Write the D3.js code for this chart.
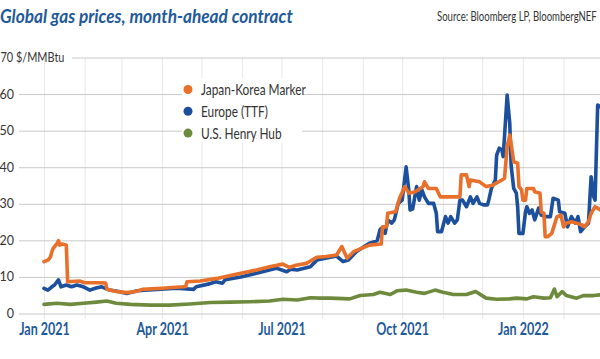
<!DOCTYPE html>
<html><head><meta charset="utf-8">
<script src="https://cdn.jsdelivr.net/npm/d3@7"></script>
<style>body{margin:0;background:#fff}svg{display:block}</style>
</head><body><svg id="c" width="600" height="359"></svg>
<script>
// ---------- data ----------
const seriesNames = ["Japan-Korea Marker", "Europe (TTF)", "U.S. Henry Hub"];
const seriesColors = ["#e8702a", "#1c4f9c", "#6e8b3d"];

const jkm = [
["2021-01-01",14.2],["2021-01-04",14.6],["2021-01-06",15.5],["2021-01-07",16.9],["2021-01-08",17.8],
["2021-01-11",19.2],["2021-01-12",19.9],["2021-01-13",18.7],["2021-01-15",19.0],["2021-01-18",18.7],
["2021-01-19",8.7],["2021-01-28",8.9],["2021-02-01",8.4],["2021-02-13",8.4],["2021-02-17",8.3],
["2021-02-18",6.6],["2021-02-25",6.0],["2021-03-05",5.7],["2021-03-12",6.0],["2021-03-17",6.6],
["2021-04-01",6.9],["2021-04-17",7.3],["2021-04-19",7.4],["2021-04-20",8.7],["2021-04-30",8.9],
["2021-05-13",9.6],["2021-05-23",10.4],["2021-05-31",11.0],["2021-06-12",11.9],["2021-06-22",12.8],
["2021-07-02",13.5],["2021-07-07",12.6],["2021-07-12",13.2],["2021-07-20",13.7],["2021-07-28",15.4],
["2021-08-04",15.6],["2021-08-12",16.0],["2021-08-16",18.3],["2021-08-20",15.1],["2021-08-25",16.9],
["2021-09-06",18.7],["2021-09-15",19.0],["2021-09-16",23.7],["2021-09-19",23.7],["2021-09-20",27.4],
["2021-09-26",27.8],["2021-09-29",31.5],["2021-10-03",34.7],["2021-10-06",32.9],["2021-10-11",33.3],
["2021-10-17",34.7],["2021-10-18",36.0],["2021-10-21",34.2],["2021-10-27",34.2],["2021-10-30",31.9],
["2021-11-14",31.9],["2021-11-15",37.9],["2021-11-19",37.9],["2021-11-21",34.7],["2021-11-22",36.5],
["2021-11-29",36.0],["2021-12-04",34.7],["2021-12-09",35.1],["2021-12-16",36.5],["2021-12-18",37.0],
["2021-12-20",45.6],["2021-12-22",48.8],["2021-12-23",46.5],["2021-12-25",41.5],["2021-12-28",41.1],
["2021-12-29",34.7],["2021-12-31",33.8],["2022-01-01",31.0],["2022-01-03",31.0],["2022-01-04",34.2],
["2022-01-09",34.2],["2022-01-10",33.3],["2022-01-14",32.9],["2022-01-15",27.8],["2022-01-17",27.4],
["2022-01-18",21.0],["2022-01-20",21.0],["2022-01-23",21.9],["2022-01-27",26.5],["2022-01-30",26.9],
["2022-02-01",23.7],["2022-02-03",24.7],["2022-02-07",25.1],["2022-02-11",24.7],["2022-02-15",24.2],
["2022-02-17",23.7],["2022-02-20",25.1],["2022-02-22",27.4],["2022-02-25",29.2],["2022-02-27",28.8],
["2022-03-01",28.3]
];

const ttf = [
["2021-01-01",6.9],["2021-01-04",6.4],["2021-01-07",7.3],["2021-01-09",7.8],["2021-01-12",9.2],
["2021-01-14",7.3],["2021-01-18",7.8],["2021-01-22",7.3],["2021-01-26",7.8],["2021-01-31",7.3],
["2021-02-05",6.4],["2021-02-09",6.9],["2021-02-14",7.3],["2021-02-20",6.4],["2021-02-27",6.0],
["2021-03-05",5.5],["2021-03-13",6.2],["2021-03-28",6.6],["2021-04-12",6.9],["2021-04-25",6.6],
["2021-04-27",7.3],["2021-05-07",8.1],["2021-05-12",8.7],["2021-05-17",8.3],["2021-05-19",9.2],
["2021-05-31",10.0],["2021-06-12",11.0],["2021-06-27",12.4],["2021-07-05",11.4],["2021-07-08",12.1],
["2021-07-13",11.9],["2021-07-23",12.8],["2021-07-28",14.6],["2021-08-12",15.7],["2021-08-17",14.2],
["2021-08-21",14.6],["2021-08-27",16.9],["2021-09-06",19.2],["2021-09-10",19.6],["2021-09-12",20.0],
["2021-09-14",22.8],["2021-09-15",23.3],["2021-09-18",21.9],["2021-09-20",25.6],["2021-09-23",24.7],
["2021-09-25",25.6],["2021-09-28",30.1],["2021-10-01",31.0],["2021-10-04",40.1],["2021-10-06",33.8],
["2021-10-07",28.3],["2021-10-09",28.6],["2021-10-12",34.7],["2021-10-14",31.0],["2021-10-16",33.8],
["2021-10-18",31.9],["2021-10-21",30.1],["2021-10-25",30.1],["2021-10-27",27.4],["2021-10-28",22.4],
["2021-10-31",22.4],["2021-11-03",26.5],["2021-11-05",24.7],["2021-11-07",26.5],["2021-11-10",24.7],
["2021-11-12",25.6],["2021-11-14",31.0],["2021-11-16",31.0],["2021-11-19",29.2],["2021-11-22",31.9],
["2021-11-24",30.1],["2021-11-27",31.9],["2021-11-29",30.1],["2021-12-02",29.7],["2021-12-05",29.7],
["2021-12-06",31.0],["2021-12-08",34.2],["2021-12-11",36.5],["2021-12-12",43.3],["2021-12-14",45.2],
["2021-12-16",44.7],["2021-12-17",42.9],["2021-12-20",59.7],["2021-12-22",52.0],["2021-12-23",40.6],
["2021-12-25",34.2],["2021-12-27",32.9],["2021-12-28",29.2],["2021-12-29",21.9],["2022-01-01",21.9],
["2022-01-03",27.8],["2022-01-04",29.2],["2022-01-06",27.4],["2022-01-08",28.3],["2022-01-10",25.6],
["2022-01-13",28.8],["2022-01-15",26.9],["2022-01-18",26.5],["2022-01-22",26.5],["2022-01-24",31.5],
["2022-01-28",31.0],["2022-01-29",27.8],["2022-02-02",27.4],["2022-02-04",23.7],["2022-02-07",26.5],
["2022-02-10",24.7],["2022-02-12",26.5],["2022-02-14",22.4],["2022-02-17",23.7],["2022-02-20",24.7],
["2022-02-22",37.4],["2022-02-24",31.9],["2022-02-25",31.0],["2022-02-27",57.0],["2022-03-01",56.5]
];

const henryHub = [
["2021-01-01",2.5],["2021-01-11",2.8],["2021-01-21",2.5],["2021-01-31",2.8],["2021-02-10",3.1],
["2021-02-18",3.4],["2021-02-25",2.8],["2021-03-08",2.5],["2021-03-23",2.3],["2021-04-07",2.3],
["2021-04-22",2.6],["2021-05-08",3.0],["2021-05-23",3.1],["2021-06-07",3.2],["2021-06-22",3.4],
["2021-07-02",3.9],["2021-07-13",3.7],["2021-07-23",4.3],["2021-07-30",4.2],["2021-08-07",4.2],
["2021-08-22",4.0],["2021-08-30",4.9],["2021-09-09",5.2],["2021-09-14",5.8],["2021-09-22",5.2],
["2021-09-27",6.2],["2021-10-04",6.4],["2021-10-12",5.8],["2021-10-18",5.5],["2021-10-26",6.4],
["2021-11-01",5.8],["2021-11-09",5.2],["2021-11-19",5.2],["2021-11-26",6.0],["2021-12-04",4.2],
["2021-12-12",3.9],["2021-12-22",4.0],["2021-12-27",4.2],["2022-01-04",4.0],["2022-01-09",4.6],
["2022-01-17",4.2],["2022-01-22",4.3],["2022-01-25",6.7],["2022-01-27",4.6],["2022-01-31",6.0],
["2022-02-03",4.9],["2022-02-11",4.2],["2022-02-16",4.9],["2022-02-24",4.9],["2022-03-01",5.1]
];

const yTicks = [0, 10, 20, 30, 40, 50, 60, 70];
const xTickDates = ["2021-01-01", "2021-04-01", "2021-07-01", "2021-10-01", "2022-01-01"];
const xTickLabels = ["Jan 2021", "Apr 2021", "Jul 2021", "Oct 2021", "Jan 2022"];
const titleText = "Global gas prices, month-ahead contract";
const sourceText = "Source: Bloomberg LP, BloombergNEF";
const unitText = "$/MMBtu";

// ---------- setup ----------
const parse = d3.utcParse("%Y-%m-%d");
const svg = d3.select("#c");
const FONT = "Lato, 'Open Sans', sans-serif";
const BLUE_TEXT = "#1f5a9a";

const x = d3.scaleUtc().domain([parse("2021-01-01"), parse("2022-03-01")]).range([44, 600.3]);
const y = d3.scaleLinear().domain([0, 70]).range([313.5, 57.5]);

function condense(sel, f) {
  sel.each(function () {
    const w = this.getComputedTextLength();
    this.setAttribute("textLength", w * f);
    this.setAttribute("lengthAdjust", "spacingAndGlyphs");
  });
}
// place a text horizontally squeezed to a target width via a transform
function squeezeTo(textSel, x0, y0, w) {
  const nat = textSel.node().getComputedTextLength();
  textSel.attr("x", 0).attr("y", 0)
    .attr("transform", `translate(${x0},${y0}) scale(${w / nat},1)`);
}

// vertical month gridlines
const vgrid = svg.append("g").attr("transform", "translate(0,319)")
  .call(d3.axisBottom(x).ticks(d3.utcMonth.every(1)).tickSize(-(319 - 57.5)).tickFormat(""));
vgrid.select(".domain").remove();
vgrid.selectAll(".tick line").attr("stroke", "#e8e8e8").attr("stroke-width", 1);

// horizontal gridlines + y labels
const gridLeft = 19;
const yAxis = svg.append("g").attr("transform", `translate(${gridLeft},0)`)
  .call(d3.axisLeft(y).tickValues(yTicks).tickSize(-(600 - gridLeft)).tickPadding(5)
    .tickFormat(d => d === 70 ? "" : d));
yAxis.select(".domain").remove();
yAxis.selectAll(".tick line").attr("stroke", "#c9c9c9").attr("stroke-width", 1);
yAxis.selectAll(".tick text").attr("font-family", FONT).attr("font-size", 12.5).attr("fill", "#333");
yAxis.selectAll(".tick").filter(d => d === 70).select("line").attr("x1", 72 - gridLeft);
const unitLabel = svg.append("text").text(`${yTicks[yTicks.length - 1]} ${unitText}`)
  .attr("font-family", FONT).attr("font-size", 13.5).attr("fill", "#333").attr("dy", "0.32em");
squeezeTo(unitLabel, 0.5, y(70), 64);

// x labels
const xAxis = svg.append("g").attr("transform", "translate(0,318)")
  .call(d3.axisBottom(x).tickValues(xTickDates.map(parse)).tickSize(0).tickPadding(5)
    .tickFormat((d, i) => xTickLabels[i]));
xAxis.select(".domain").remove();
xAxis.selectAll(".tick text").attr("font-family", FONT).attr("font-weight", "bold")
  .attr("font-size", 16.5).attr("fill", BLUE_TEXT).call(condense, 0.76);

// lines
const line = d3.line().x(d => x(parse(d[0]))).y(d => y(d[1]));
const drawOrder = [[ttf, 1], [jkm, 0], [henryHub, 2]];
svg.append("g").selectAll("path").data(drawOrder).join("path")
  .attr("d", d => line(d[0]))
  .attr("fill", "none")
  .attr("stroke", d => seriesColors[d[1]])
  .attr("stroke-width", 3.6)
  .attr("stroke-linejoin", "round")
  .attr("stroke-linecap", "round");

// legend
const lg = svg.append("g");
lg.append("rect").attr("x", 182).attr("y", 78).attr("width", 120).attr("height", 64).attr("fill", "#fff");
const items = lg.selectAll("g.item").data(seriesNames).join("g").attr("class", "item")
  .attr("transform", (d, i) => `translate(188,${89.5 + i * 21.8})`);
items.append("circle").attr("r", 4.5).attr("fill", (d, i) => seriesColors[i]);
const lt = items.append("text").attr("x", 13).attr("dy", "0.36em").text(d => d)
  .attr("font-family", FONT).attr("font-size", 15).attr("fill", "#333");
condense(lt, 0.79);

// title & source
const title = svg.append("text").text(titleText)
  .attr("font-family", FONT).attr("font-weight", "bold").attr("font-style", "italic")
  .attr("font-size", 19.5).attr("fill", BLUE_TEXT);
squeezeTo(title, 0, 23, 293);
const src = svg.append("text").text(sourceText)
  .attr("font-family", FONT).attr("font-size", 14).attr("fill", "#333");
squeezeTo(src, 437, 21, 160);
</script></body></html>
